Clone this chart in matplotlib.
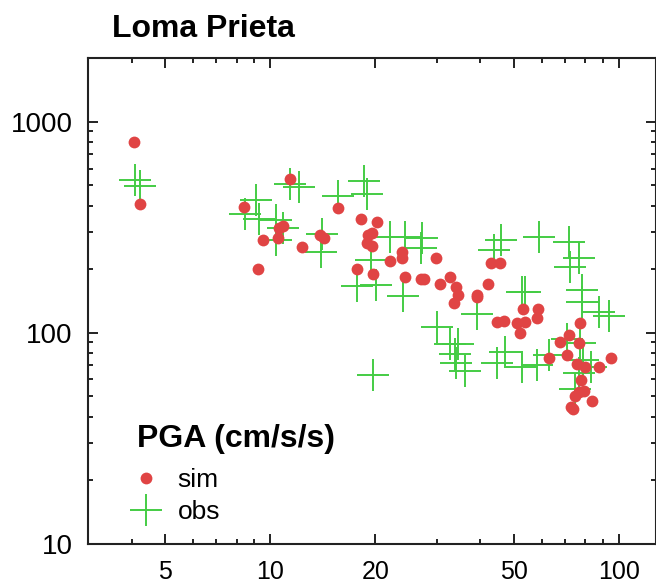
import matplotlib
matplotlib.use("Agg")
import matplotlib.pyplot as plt
from matplotlib.ticker import LogLocator, NullFormatter, FixedLocator, FixedFormatter

plt.rcParams['font.family'] = ['Liberation Sans', 'DejaVu Sans']

# Simulated PGA (distance km, cm/s/s)
sim_dist = [4.07, 4.23, 11.4, 8.38, 15.6, 10.6, 10.9, 9.5, 10.5, 12.3, 13.9, 14.2,
            9.2, 17.7, 18.2, 19.7, 19.1, 19.5, 18.95, 19.6, 20.2, 22.0, 23.9, 23.8,
            24.3, 27.0, 27.6, 29.9, 30.7, 32.7, 34.1, 34.6, 33.7, 39.1, 39.1, 42.0,
            43.0, 45.6, 44.6, 46.6, 50.9, 53.8, 51.8, 53.0, 58.4, 58.0, 62.8, 67.8,
            71.6, 70.9, 76.5, 77.0, 75.7, 79.6, 87.4, 94.4, 77.8, 76.5, 74.9, 79.1,
            83.3, 72.8, 73.8]
sim_pga = [803, 407, 535, 394, 391, 313, 321, 274, 280, 256, 291, 282,
           200, 200, 346, 190, 291, 296, 265, 258, 334, 219, 242, 225,
           183, 180, 180, 225, 171, 184, 164, 151, 138, 151, 147, 170,
           213, 213, 112, 114, 111, 112, 99.6, 129, 129, 117, 75.7, 90.2,
           97.1, 78.0, 89.2, 111, 71.2, 68.6, 68.6, 75.7, 59.7, 52.1, 50.3, 53.1,
           47.2, 44.6, 43.5]

# Observed PGA
obs_dist = [4.1, 4.24, 9.1, 8.44, 9.3, 10.4, 10.9, 10.4, 11.4, 12.1, 15.6, 18.5,
            18.9, 14.1, 14.0, 17.7, 20.1, 19.4, 22.0, 24.3, 27.2, 27.0, 24.0, 19.7,
            30.0, 32.7, 34.6, 33.9, 34.1, 39.1, 43.6, 45.8, 52.6, 53.8, 44.6, 47.1,
            52.6, 58.0, 58.7, 71.6, 76.5, 72.1, 78.3, 78.3, 87.4, 93.3, 70.9, 77.4,
            78.6, 82.7, 76.5, 74.9, 62.8, 36.2]
obs_pga = [531, 497, 427, 366, 346, 343, 315, 275, 507, 488, 446, 521,
           454, 293, 242, 166, 168, 221, 285, 285, 280, 251, 149, 63.3,
           106, 88.6, 88.6, 79.4, 71.6, 123, 247, 275, 156, 156, 71.6, 80.8,
           68.6, 69.9, 283, 268, 225, 204, 159, 140, 125, 120, 93.6, 89.2,
           73.8, 68.6, 64.2, 54.1, 78.0, 66.1]

x_ticks = [5, 10, 20, 50, 100]
x_ticklabels = ["5", "10", "20", "50", "100"]
y_ticks = [10, 100, 1000]
y_ticklabels = ["10", "100", "1000"]

fig = plt.figure(figsize=(6.56, 5.85), dpi=100)
ax = fig.add_axes([88/656, 41.5/585, (655.5-88)/656, (543.5-58.3)/585])

green = '#44cc44'
red = '#e04444'

h_obs, = ax.plot(obs_dist, obs_pga, linestyle='none', marker='+', markersize=23,
                 markeredgewidth=1.4, color=green, label='obs')
h_sim, = ax.plot(sim_dist, sim_pga, linestyle='none', marker='o', markersize=8.5,
                 markeredgewidth=0, color=red, label='sim')

ax.set_xscale('log')
ax.set_yscale('log')
ax.set_xlim(3, 127)
ax.set_ylim(10, 2000)

ax.xaxis.set_major_locator(FixedLocator(x_ticks))
ax.xaxis.set_major_formatter(FixedFormatter(x_ticklabels))
ax.xaxis.set_minor_locator(FixedLocator([4, 6, 7, 8, 9, 30, 40, 60, 70, 80, 90]))
ax.xaxis.set_minor_formatter(NullFormatter())
ax.yaxis.set_major_locator(FixedLocator(y_ticks))
ax.yaxis.set_major_formatter(FixedFormatter(y_ticklabels))
ax.yaxis.set_minor_locator(LogLocator(base=10, subs=range(2, 10)))
ax.yaxis.set_minor_formatter(NullFormatter())

ax.tick_params(which='both', direction='in', top=True, right=True, color='#222222')
ax.tick_params(which='major', length=7.5, width=1.4)
ax.tick_params(which='minor', length=3.8, width=1.4)
ax.tick_params(axis='x', which='major', labelsize=18, pad=12)
ax.tick_params(axis='y', which='major', labelsize=20, pad=11)
for s in ax.spines.values():
    s.set_linewidth(1.5)
    s.set_color('#222222')

fig.text(112/656, 1 - 36.7/585, "Loma Prieta", fontsize=23, fontweight='bold',
         ha='left', va='baseline')

fig.text(137/656, 1 - 447/585, "PGA (cm/s/s)", fontsize=23, fontweight='bold',
         ha='left', va='baseline')

leg = ax.legend(handles=[h_sim, h_obs], loc='upper left',
                bbox_to_anchor=(130/656, 1 - 468/585), bbox_transform=fig.transFigure,
                frameon=False, fontsize=19, handlelength=1.2, handletextpad=0.6,
                labelspacing=0.3, borderpad=0, borderaxespad=0)

fig.savefig('out.png', dpi=100)
